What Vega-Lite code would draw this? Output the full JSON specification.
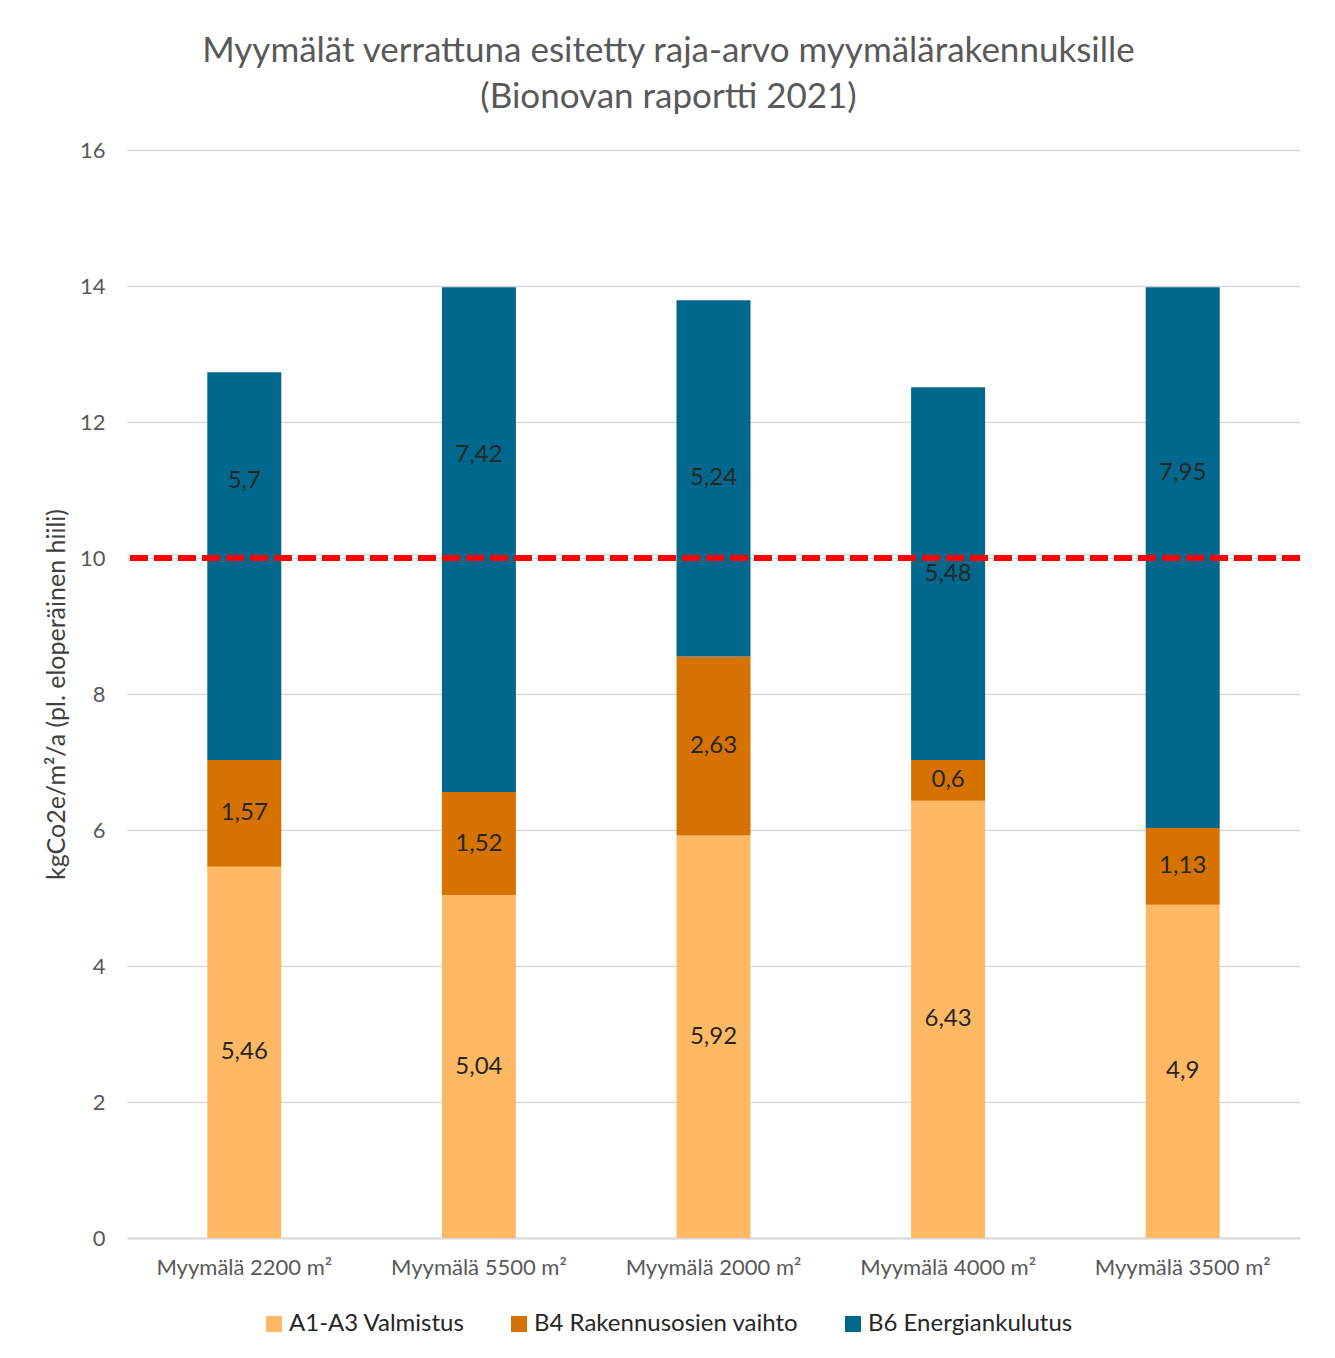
{
  "$schema": "https://vega.github.io/schema/vega-lite/v6.json",
  "width": 1173,
  "height": 1088,
  "autosize": "none",
  "padding": {"left": 127, "top": 150, "right": 35, "bottom": 120},
  "background": "white",
  "config": {
    "font": "Lato",
    "view": {"stroke": null},
    "locale": {
      "number": {"decimal": ",", "thousands": " ", "grouping": [3], "currency": ["", " €"]}
    }
  },
  "title": {
    "text": ["Myymälät verrattuna esitetty raja-arvo myymälärakennuksille", "(Bionovan raportti 2021)"],
    "font": "Lato",
    "fontSize": 35,
    "fontWeight": "normal",
    "color": "#595959",
    "lineHeight": 46,
    "anchor": "middle",
    "dx": -45,
    "offset": 24
  },
  "data": {
    "values": [
      {"store": "Myymälä 2200 m²", "component": "A1-A3 Valmistus", "value": 5.46},
      {"store": "Myymälä 2200 m²", "component": "B4 Rakennusosien vaihto", "value": 1.57},
      {"store": "Myymälä 2200 m²", "component": "B6 Energiankulutus", "value": 5.7},
      {"store": "Myymälä 5500 m²", "component": "A1-A3 Valmistus", "value": 5.04},
      {"store": "Myymälä 5500 m²", "component": "B4 Rakennusosien vaihto", "value": 1.52},
      {"store": "Myymälä 5500 m²", "component": "B6 Energiankulutus", "value": 7.42},
      {"store": "Myymälä 2000 m²", "component": "A1-A3 Valmistus", "value": 5.92},
      {"store": "Myymälä 2000 m²", "component": "B4 Rakennusosien vaihto", "value": 2.63},
      {"store": "Myymälä 2000 m²", "component": "B6 Energiankulutus", "value": 5.24},
      {"store": "Myymälä 4000 m²", "component": "A1-A3 Valmistus", "value": 6.43},
      {"store": "Myymälä 4000 m²", "component": "B4 Rakennusosien vaihto", "value": 0.6},
      {"store": "Myymälä 4000 m²", "component": "B6 Energiankulutus", "value": 5.48},
      {"store": "Myymälä 3500 m²", "component": "A1-A3 Valmistus", "value": 4.9},
      {"store": "Myymälä 3500 m²", "component": "B4 Rakennusosien vaihto", "value": 1.13},
      {"store": "Myymälä 3500 m²", "component": "B6 Energiankulutus", "value": 7.95}
    ]
  },
  "transform": [
    {"stack": "value", "groupby": ["store"], "sort": [{"field": "component"}], "as": ["v0", "v1"]},
    {"calculate": "(datum.v0 + datum.v1) / 2", "as": "mid"},
    {"calculate": "datum.mid > 9.85 && datum.mid < 10.5 ? datum.mid + 1.25 : datum.mid", "as": "labelY"}
  ],
  "layer": [
    {
      "mark": {"type": "bar", "size": 74},
      "encoding": {
        "x": {
          "field": "store",
          "type": "nominal",
          "sort": null,
          "axis": {
            "title": null,
            "labelAngle": 0,
            "labelFontSize": 22,
            "labelColor": "#595959",
            "labelPadding": 19,
            "ticks": false,
            "domainColor": "#d9d9d9",
            "domainWidth": 2
          }
        },
        "y": {
          "field": "v0",
          "type": "quantitative",
          "scale": {"domain": [0, 16]},
          "axis": {
            "title": "kgCo2e/m²/a (pl. eloperäinen hiili)",
            "titleFontSize": 25,
            "titleFontWeight": "normal",
            "titleColor": "#404040",
            "titlePadding": 10,
            "values": [0, 2, 4, 6, 8, 10, 12, 14, 16],
            "format": "d",
            "labelFontSize": 22,
            "labelColor": "#595959",
            "labelPadding": 22,
            "ticks": false,
            "domain": false,
            "gridColor": "#d9d9d9",
            "gridWidth": 1.5
          }
        },
        "y2": {"field": "v1"},
        "color": {
          "field": "component",
          "type": "nominal",
          "scale": {
            "domain": ["A1-A3 Valmistus", "B4 Rakennusosien vaihto", "B6 Energiankulutus"],
            "range": ["#FFB964", "#D67200", "#00688D"]
          },
          "legend": {
            "title": null,
            "orient": "none",
            "direction": "horizontal",
            "legendX": 135,
            "legendY": 1162,
            "symbolType": "square",
            "symbolSize": 256,
            "symbolStrokeWidth": 0,
            "labelFontSize": 24,
            "labelColor": "#262626",
            "labelOffset": 3,
            "columnPadding": 42,
            "labelLimit": 400
          }
        }
      }
    },
    {
      "mark": {"type": "rule", "color": "#FF0000", "strokeWidth": 5, "strokeDash": [18, 6]},
      "encoding": {"y": {"datum": 10, "type": "quantitative"}}
    },
    {
      "mark": {"type": "text", "fontSize": 24, "color": "#262626"},
      "encoding": {
        "x": {"field": "store", "type": "nominal", "sort": null},
        "y": {"field": "labelY", "type": "quantitative"},
        "text": {"field": "value", "type": "quantitative", "format": ".3~g"}
      }
    }
  ]
}
